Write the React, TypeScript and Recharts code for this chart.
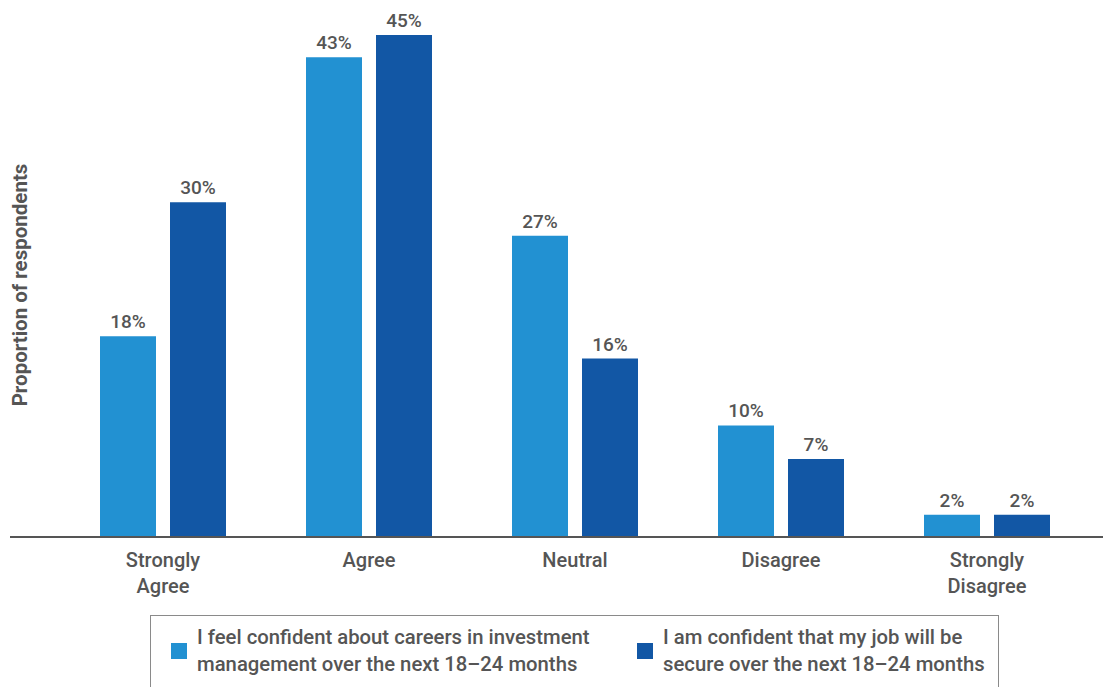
import { BarChart, Bar, XAxis, YAxis, LabelList } from 'recharts';

const categories = ['Strongly Agree', 'Agree', 'Neutral', 'Disagree', 'Strongly Disagree'];
const careerConfidence = [18, 43, 27, 10, 2];
const jobSecurity = [30, 45, 16, 7, 2];

const seriesNames = [
    'I feel confident about careers in investment management over the next 18-24 months',
    'I am confident that my job will be secure over the next 18-24 months',
];
const legendLines = [
    ['I feel confident about careers in investment', 'management over the next 18\u201324 months'],
    ['I am confident that my job will be', 'secure over the next 18\u201324 months'],
];
const colors = ['#2291D2', '#1257A5'];

const data = categories.map((name, i) => ({
    name,
    careers: careerConfidence[i],
    job: jobSecurity[i],
}));

const FONT = 'Roboto, "Noto Sans", sans-serif';
const TEXT = '#555555';

function CategoryTick({ x, y, payload }: any) {
    const words: string[] = payload.value.split(' ');
    const lines = words.length > 1 ? words : [payload.value];
    return (
        <text x={x} y={y} textAnchor="middle" fill={TEXT} fontSize={20} fontWeight={500} fontFamily={FONT}>
            {lines.map((line, i) => (
                <tspan key={i} x={x} dy={i === 0 ? 22 : 26}>
                    {line}
                </tspan>
            ))}
        </text>
    );
}

export default function App() {
    return (
        <div style={{ position: 'absolute', left: 0, top: 0, width: 1103, height: 687, background: '#fff', overflow: 'hidden' }}>
            <BarChart
                width={1103}
                height={687}
                data={data}
                margin={{ top: 35, right: 0, bottom: 90, left: 10 }}
                barCategoryGap={40}
                barGap={14}
            >
                <XAxis
                    dataKey="name"
                    height={60}
                    padding={{ left: 50, right: 13 }}
                    tickLine={false}
                    axisLine={{ stroke: TEXT, strokeWidth: 2 }}
                    tick={<CategoryTick />}
                    interval={0}
                />
                <YAxis hide domain={[0, 45]} />
                <Bar dataKey="careers" name={seriesNames[0]} fill={colors[0]} barSize={56} isAnimationActive={false}>
                    <LabelList dataKey="careers" position="top" offset={8} formatter={(v: any) => `${v}%`}
                        fill={TEXT} fontSize={19} fontWeight={500} fontFamily={FONT} />
                </Bar>
                <Bar dataKey="job" name={seriesNames[1]} fill={colors[1]} barSize={56} isAnimationActive={false}>
                    <LabelList dataKey="job" position="top" offset={8} formatter={(v: any) => `${v}%`}
                        fill={TEXT} fontSize={19} fontWeight={500} fontFamily={FONT} />
                </Bar>
            </BarChart>

            {/* rotated axis title */}
            <div
                style={{
                    position: 'absolute',
                    left: 20,
                    top: 285,
                    transform: 'translate(-50%, -50%) rotate(-90deg)',
                    whiteSpace: 'nowrap',
                    fontFamily: FONT,
                    fontWeight: 700,
                    fontSize: 20.5,
                    color: TEXT,
                }}
            >
                Proportion of respondents
            </div>

            {/* legend box, runs off the bottom edge */}
            <div
                style={{
                    position: 'absolute',
                    left: 150,
                    top: 615,
                    width: 849,
                    height: 120,
                    border: '1.5px solid #8a8a8a',
                    boxSizing: 'border-box',
                    fontFamily: FONT,
                    fontWeight: 500,
                    fontSize: 20.3,
                    color: TEXT,
                }}
            >
                {legendLines.map((lines, i) => (
                    <div key={i} style={{ position: 'absolute', left: i === 0 ? 20 : 486, top: 8, display: 'flex', alignItems: 'center' }}>
                        <div style={{ width: 16, height: 16, background: colors[i], marginRight: 10 }} />
                        <div style={{ lineHeight: '27px' }}>
                            {lines.map((l, j) => (
                                <div key={j}>{l}</div>
                            ))}
                        </div>
                    </div>
                ))}
            </div>
        </div>
    );
}
